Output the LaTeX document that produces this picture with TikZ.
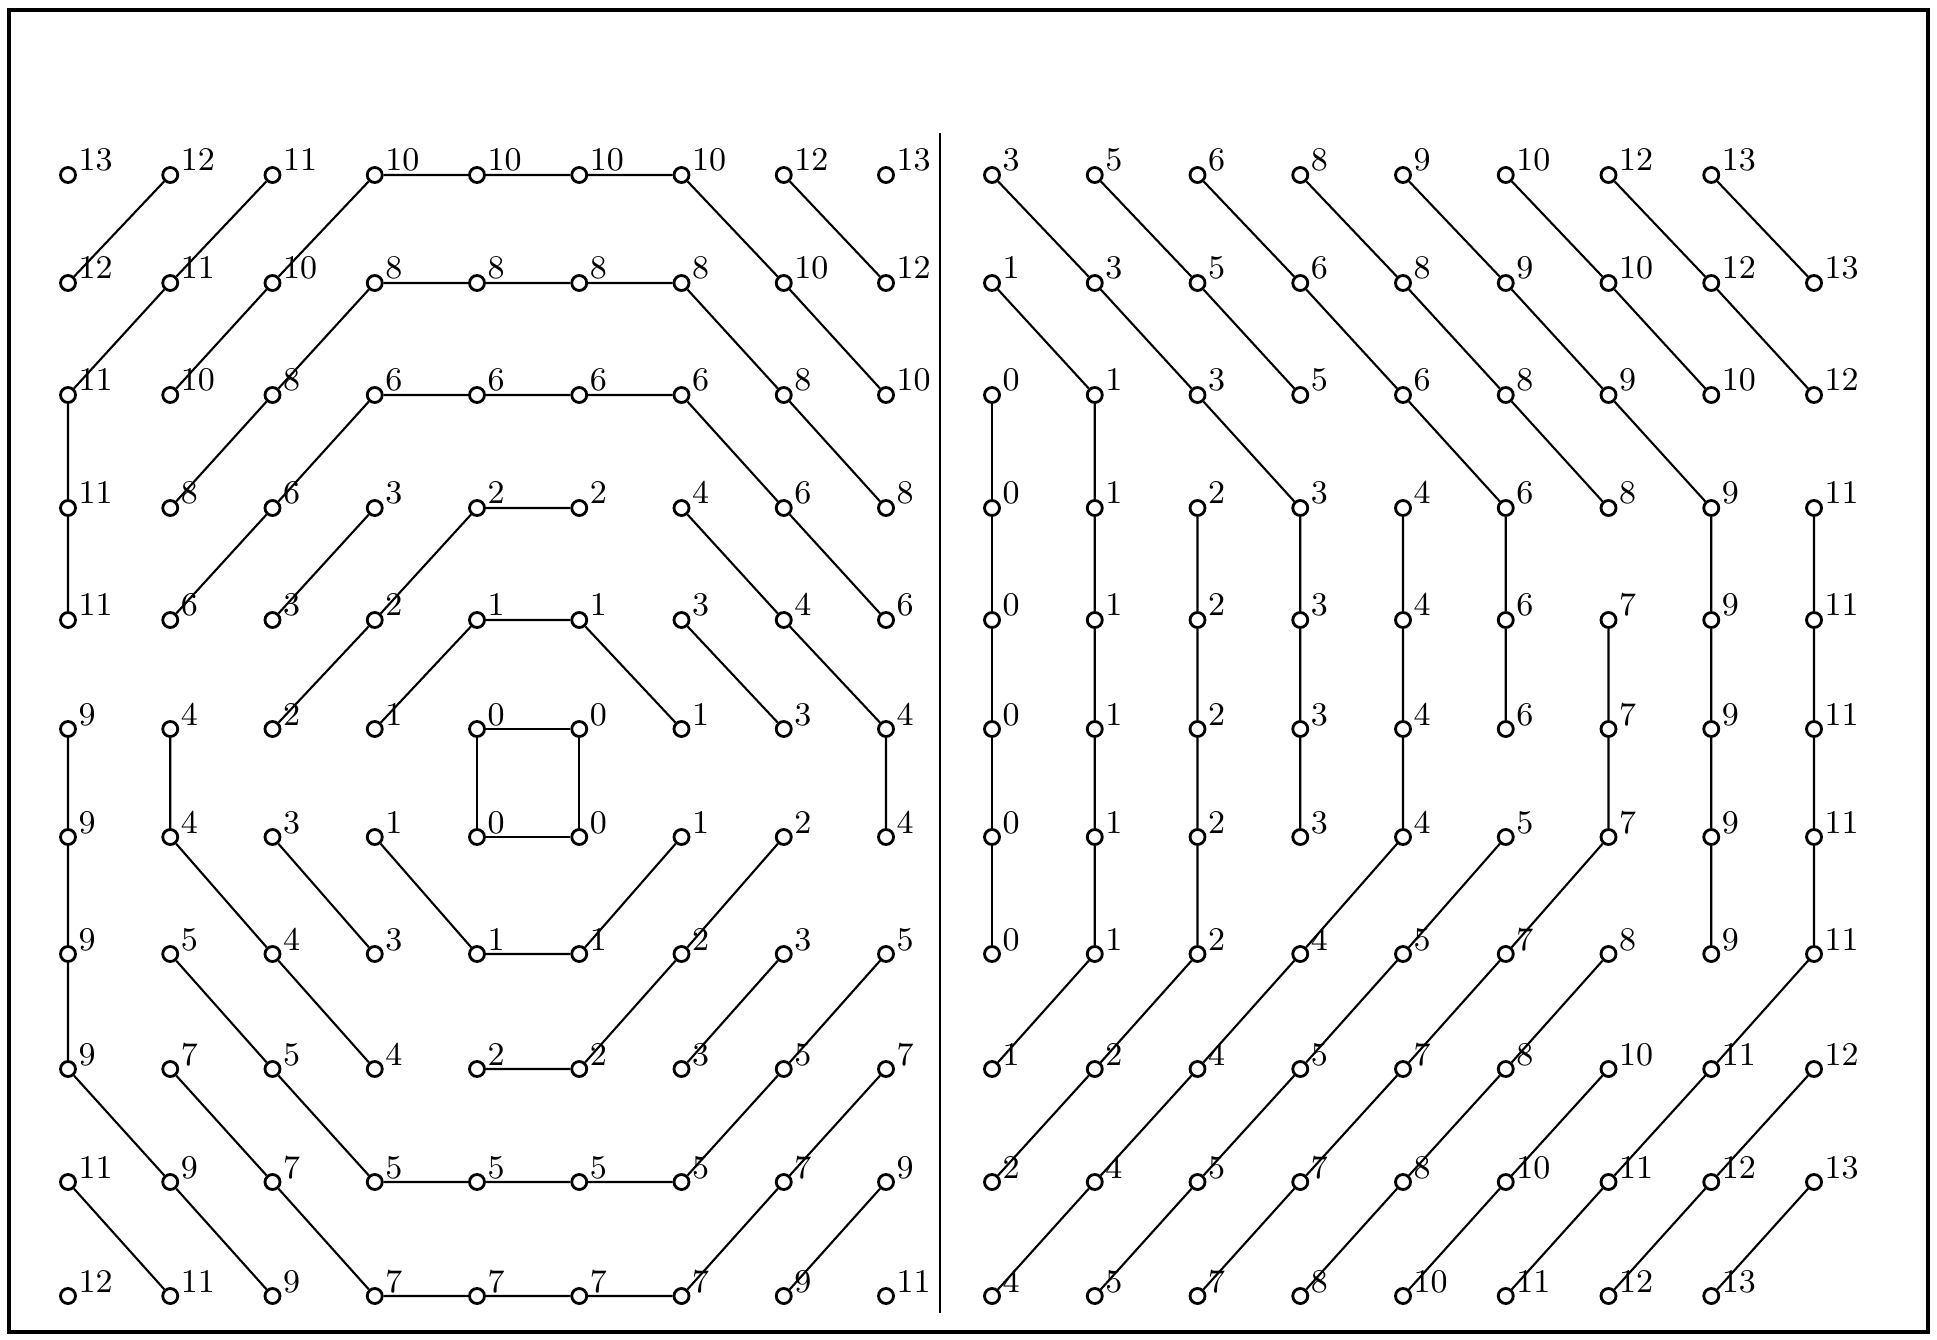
\documentclass[tikz,border=0pt]{standalone}
\def\rowy{{175,283,395,508,620,729,837,954,1069,1182,1296}}
\begin{document}
\begin{tikzpicture}[x=0.01cm,y=-0.01cm]
    \tikzset{dot/.style={circle,draw,line width=0.8pt,minimum size=0.15cm,inner sep=0pt},
             num/.style={anchor=base west,inner sep=0pt,font=\fontsize{9.4}{10}\selectfont},
             link/.style={line width=0.6pt}}
    \useasboundingbox (0,0) rectangle (1937,1340);
    \draw [line width=1.1pt] (9,10) rectangle (1928,1332);
    \draw [line width=0.8pt] (940,133) -- (940,1313);
    % left grid
    \foreach \row [count=\r] in {{13,12,11,10,10,10,10,12,13},{12,11,10,8,8,8,8,10,12},
        {11,10,8,6,6,6,6,8,10},{11,8,6,3,2,2,4,6,8},{11,6,3,2,1,1,3,4,6},
        {9,4,2,1,0,0,1,3,4},{9,4,3,1,0,0,1,2,4},{9,5,4,3,1,1,2,3,5},
        {9,7,5,4,2,2,3,5,7},{11,9,7,5,5,5,5,7,9},{12,11,9,7,7,7,7,9,11}}{
      \pgfmathsetmacro\y{\rowy[\r-1]}
      \foreach \n [count=\c] in \row {
        \node[dot] (l-\c-\r) at ({68+102.25*(\c-1)},\y) {};
        \node[num] (l-\c-\r-t) at ({78+102.25*(\c-1)},\y-4) {\n};
      }
    }
    % right grid
    \foreach \row [count=\r] in {{3,5,6,8,9,10,12,13},{1,3,5,6,8,9,10,12,13},
        {0,1,3,5,6,8,9,10,12},{0,1,2,3,4,6,8,9,11},{0,1,2,3,4,6,7,9,11},
        {0,1,2,3,4,6,7,9,11},{0,1,2,3,4,5,7,9,11},{0,1,2,4,5,7,8,9,11},
        {1,2,4,5,7,8,10,11,12},{2,4,5,7,8,10,11,12,13},{4,5,7,8,10,11,12,13}}{
      \pgfmathsetmacro\y{\rowy[\r-1]}
      \foreach \n [count=\c] in \row {
        \node[dot] (r-\c-\r) at ({992+102.75*(\c-1)},\y) {};
        \node[num] (r-\c-\r-t) at ({1002+102.75*(\c-1)},\y-4) {\n};
      }
    }
    % left paths
    \draw [link] (l-2-1) -- (l-1-2);
    \draw [link] (l-3-1) -- (l-2-2) -- (l-1-3) -- (l-1-4) -- (l-1-5);
    \draw [link] (l-2-3) -- (l-3-2) -- (l-4-1) -- (l-5-1) -- (l-6-1) -- (l-7-1) -- (l-8-2) -- (l-9-3);
    \draw [link] (l-8-1) -- (l-9-2);
    \draw [link] (l-2-4) -- (l-3-3) -- (l-4-2) -- (l-5-2) -- (l-6-2) -- (l-7-2) -- (l-8-3) -- (l-9-4);
    \draw [link] (l-2-5) -- (l-3-4) -- (l-4-3) -- (l-5-3) -- (l-6-3) -- (l-7-3) -- (l-8-4) -- (l-9-5);
    \draw [link] (l-4-4) -- (l-3-5);
    \draw [link] (l-3-6) -- (l-4-5) -- (l-5-4) -- (l-6-4);
    \draw [link] (l-7-4) -- (l-8-5) -- (l-9-6) -- (l-9-7);
    \draw [link] (l-4-6) -- (l-5-5) -- (l-6-5) -- (l-7-6);
    \draw [link] (l-7-5) -- (l-8-6);
    \draw [link] (l-5-6) -- (l-6-6) -- (l-6-7) -- (l-5-7) -- (l-5-6);
    \draw [link] (l-1-6) -- (l-1-7) -- (l-1-8) -- (l-1-9) -- (l-2-10) -- (l-3-11);
    \draw [link] (l-2-6) -- (l-2-7) -- (l-3-8) -- (l-4-9);
    \draw [link] (l-3-7) -- (l-4-8);
    \draw [link] (l-4-7) -- (l-5-8) -- (l-6-8) -- (l-7-7);
    \draw [link] (l-8-7) -- (l-7-8) -- (l-6-9) -- (l-5-9);
    \draw [link] (l-2-8) -- (l-3-9) -- (l-4-10) -- (l-5-10) -- (l-6-10) -- (l-7-10) -- (l-8-9) -- (l-9-8);
    \draw [link] (l-8-8) -- (l-7-9);
    \draw [link] (l-2-9) -- (l-3-10) -- (l-4-11) -- (l-5-11) -- (l-6-11) -- (l-7-11) -- (l-8-10) -- (l-9-9);
    \draw [link] (l-1-10) -- (l-2-11);
    \draw [link] (l-9-10) -- (l-8-11);
    % right paths
    \draw [link] (r-1-1) -- (r-2-2) -- (r-3-3) -- (r-4-4) -- (r-4-5) -- (r-4-6) -- (r-4-7);
    \draw [link] (r-2-1) -- (r-3-2) -- (r-4-3);
    \draw [link] (r-3-1) -- (r-4-2) -- (r-5-3) -- (r-6-4) -- (r-6-5) -- (r-6-6);
    \draw [link] (r-4-1) -- (r-5-2) -- (r-6-3) -- (r-7-4);
    \draw [link] (r-5-1) -- (r-6-2) -- (r-7-3) -- (r-8-4) -- (r-8-5) -- (r-8-6) -- (r-8-7) -- (r-8-8);
    \draw [link] (r-6-1) -- (r-7-2) -- (r-8-3);
    \draw [link] (r-7-1) -- (r-8-2) -- (r-9-3);
    \draw [link] (r-8-1) -- (r-9-2);
    \draw [link] (r-1-2) -- (r-2-3) -- (r-2-4) -- (r-2-5) -- (r-2-6) -- (r-2-7) -- (r-2-8) -- (r-1-9);
    \draw [link] (r-1-3) -- (r-1-4) -- (r-1-5) -- (r-1-6) -- (r-1-7) -- (r-1-8);
    \draw [link] (r-3-4) -- (r-3-5) -- (r-3-6) -- (r-3-7) -- (r-3-8) -- (r-2-9) -- (r-1-10);
    \draw [link] (r-5-4) -- (r-5-5) -- (r-5-6) -- (r-5-7) -- (r-4-8) -- (r-3-9) -- (r-2-10) -- (r-1-11);
    \draw [link] (r-7-5) -- (r-7-6) -- (r-7-7) -- (r-6-8) -- (r-5-9) -- (r-4-10) -- (r-3-11);
    \draw [link] (r-9-4) -- (r-9-5) -- (r-9-6) -- (r-9-7) -- (r-9-8) -- (r-8-9) -- (r-7-10) -- (r-6-11);
    \draw [link] (r-6-7) -- (r-5-8) -- (r-4-9) -- (r-3-10) -- (r-2-11);
    \draw [link] (r-7-8) -- (r-6-9) -- (r-5-10) -- (r-4-11);
    \draw [link] (r-7-9) -- (r-6-10) -- (r-5-11);
    \draw [link] (r-9-9) -- (r-8-10) -- (r-7-11);
    \draw [link] (r-9-10) -- (r-8-11);
\end{tikzpicture}
\end{document}
